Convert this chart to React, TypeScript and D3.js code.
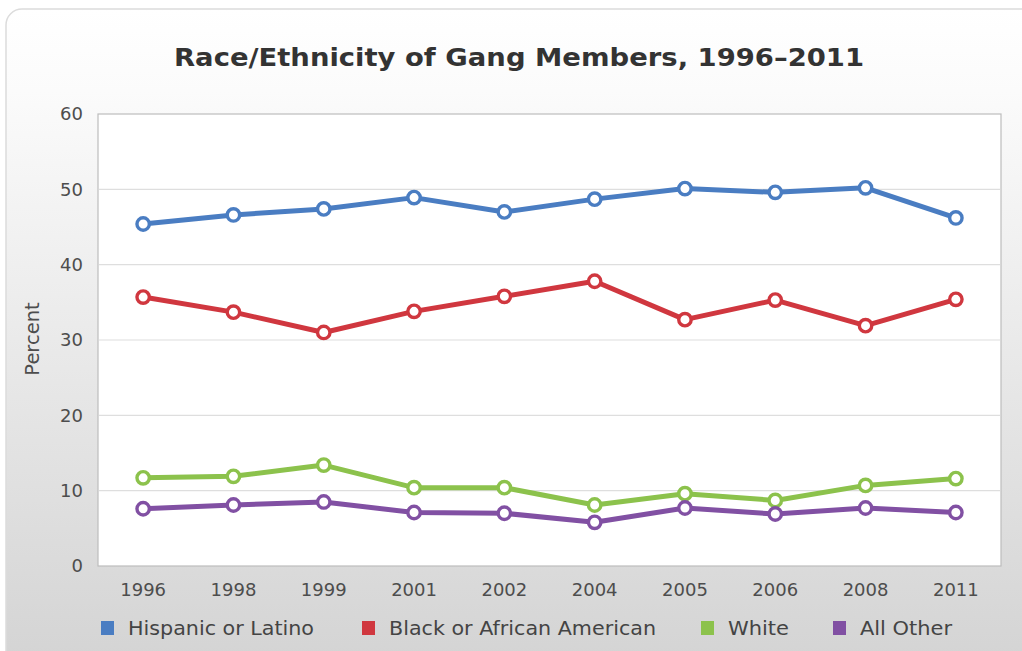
import React from "react";
import * as d3 from "d3";

const years = ["1996", "1998", "1999", "2001", "2002", "2004", "2005", "2006", "2008", "2011"];
const hispanic = [45.4, 46.6, 47.4, 48.9, 47.0, 48.7, 50.1, 49.6, 50.2, 46.2];
const black = [35.7, 33.7, 31.0, 33.8, 35.8, 37.8, 32.7, 35.3, 31.9, 35.4];
const white = [11.7, 11.9, 13.4, 10.4, 10.4, 8.1, 9.6, 8.7, 10.7, 11.6];
const allOther = [7.6, 8.1, 8.5, 7.1, 7.0, 5.8, 7.7, 6.9, 7.7, 7.1];
const yTicks = [0, 10, 20, 30, 40, 50, 60];

const seriesNames = ["Hispanic or Latino", "Black or African American", "White", "All Other"];
const seriesColors = ["#4a7dc2", "#d0373f", "#8cc24c", "#8150a3"];
const seriesValues = [hispanic, black, white, allOther];

const W = 1022;
const H = 651;
const plot = { left: 98, right: 1001, top: 114, bottom: 566 };
const FONT = "'DejaVu Sans', Verdana, sans-serif";

export default function App() {
  const x = d3.scalePoint<string>().domain(years).range([plot.left, plot.right]).padding(0.5);
  const y = d3.scaleLinear().domain([0, 60]).range([plot.bottom, plot.top]);
  const line = d3
    .line<number>()
    .x((_, i) => x(years[i]) as number)
    .y((d) => y(d));

  const legendX = [101, 362, 701, 833];
  const legendLen = [186, 267, 61, 92];

  return (
    <svg width={W} height={H} style={{ position: "absolute", left: 0, top: 0 }} fontFamily={FONT}>
      <defs>
        <linearGradient id="bg" x1="0" y1="0" x2="0" y2="1">
          <stop offset="0%" stopColor="#ffffff" />
          <stop offset="12%" stopColor="#fbfbfb" />
          <stop offset="100%" stopColor="#d2d2d2" />
        </linearGradient>
      </defs>
      <rect x={0} y={0} width={W} height={H} fill="#ffffff" />
      <rect x={6} y={9} width={1040} height={680} rx={16} ry={16} fill="url(#bg)" stroke="#dcdcdc" strokeWidth={1.5} />
      <text
        x={174}
        y={66}
        fontSize={25}
        fontWeight="bold"
        fill="#333333"
        textLength={690}
        lengthAdjust="spacingAndGlyphs"
      >
        Race/Ethnicity of Gang Members, 1996–2011
      </text>
      <rect
        x={plot.left}
        y={plot.top}
        width={plot.right - plot.left}
        height={plot.bottom - plot.top}
        fill="#ffffff"
        stroke="#bdbdbd"
        strokeWidth={1.2}
      />
      {yTicks.map((t) => (
        <g key={t}>
          {t > 0 && t < 60 && (
            <line x1={plot.left + 1} x2={plot.right - 1} y1={y(t)} y2={y(t)} stroke="#dedede" strokeWidth={1.2} />
          )}
          <text x={83} y={y(t)} dy="0.36em" textAnchor="end" fontSize={18} fill="#4d4d4d">
            {t}
          </text>
        </g>
      ))}
      {years.map((yr) => (
        <text key={yr} x={x(yr)} y={596} textAnchor="middle" fontSize={18} fill="#4d4d4d">
          {yr}
        </text>
      ))}
      <text
        transform={`translate(39,339) rotate(-90)`}
        textAnchor="middle"
        fontSize={19.5}
        fill="#4d4d4d"
      >
        Percent
      </text>
      {seriesValues.map((vals, si) => (
        <g key={si}>
          <path d={line(vals) as string} fill="none" stroke={seriesColors[si]} strokeWidth={5} strokeLinejoin="round" />
          {vals.map((v, i) => (
            <circle
              key={i}
              cx={x(years[i]) as number}
              cy={y(v)}
              r={6.2}
              fill="#ffffff"
              stroke={seriesColors[si]}
              strokeWidth={3.4}
            />
          ))}
        </g>
      ))}
      {seriesNames.map((name, si) => (
        <g key={name}>
          <rect x={legendX[si]} y={621} width={13} height={14} fill={seriesColors[si]} />
          <text
            x={legendX[si] + 27}
            y={635}
            fontSize={20}
            fill="#444444"
            textLength={legendLen[si]}
            lengthAdjust="spacingAndGlyphs"
          >
            {name}
          </text>
        </g>
      ))}
    </svg>
  );
}
